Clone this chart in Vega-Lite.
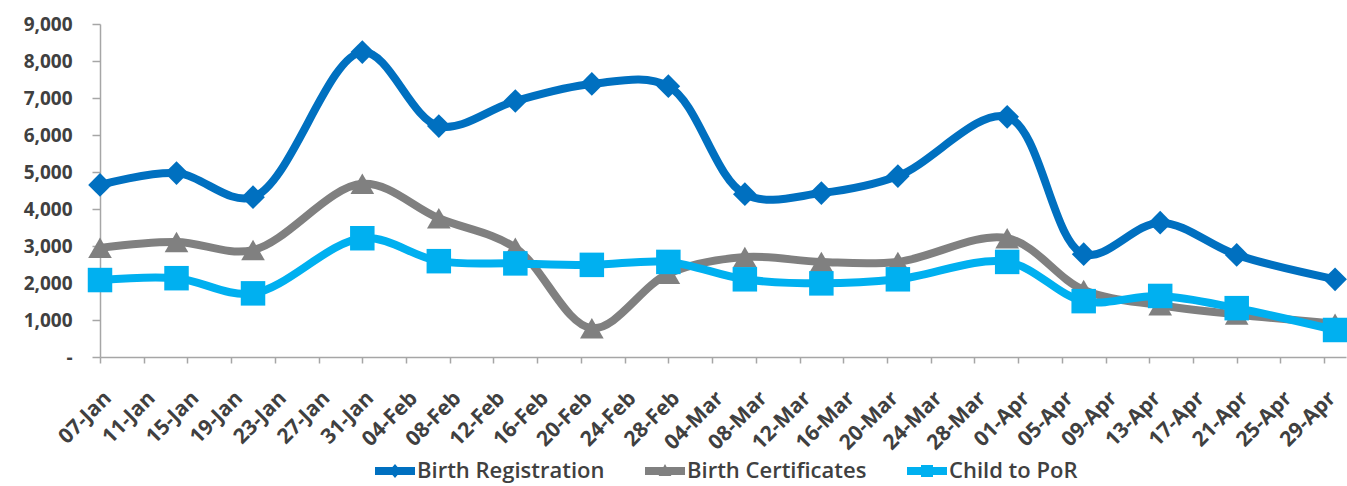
{
  "$schema": "https://vega.github.io/schema/vega-lite/v6.json",
  "width": 1246,
  "height": 333,
  "autosize": {"type": "none"},
  "padding": {"left": 100, "top": 24, "right": 1, "bottom": 129},
  "config": {"view": {"stroke": null}, "font": "Open Sans", "background": "white"},
  "data": {
    "values": [
      {"date": "2019-01-07", "series": "Birth Registration", "value": 4650},
      {"date": "2019-01-14", "series": "Birth Registration", "value": 4970},
      {"date": "2019-01-21", "series": "Birth Registration", "value": 4320},
      {"date": "2019-01-31", "series": "Birth Registration", "value": 8240},
      {"date": "2019-02-07", "series": "Birth Registration", "value": 6240},
      {"date": "2019-02-14", "series": "Birth Registration", "value": 6920},
      {"date": "2019-02-21", "series": "Birth Registration", "value": 7380},
      {"date": "2019-02-28", "series": "Birth Registration", "value": 7320},
      {"date": "2019-03-07", "series": "Birth Registration", "value": 4400},
      {"date": "2019-03-14", "series": "Birth Registration", "value": 4430},
      {"date": "2019-03-21", "series": "Birth Registration", "value": 4890},
      {"date": "2019-03-31", "series": "Birth Registration", "value": 6490},
      {"date": "2019-04-07", "series": "Birth Registration", "value": 2780},
      {"date": "2019-04-14", "series": "Birth Registration", "value": 3630},
      {"date": "2019-04-21", "series": "Birth Registration", "value": 2760},
      {"date": "2019-04-30", "series": "Birth Registration", "value": 2100},
      {"date": "2019-01-07", "series": "Birth Certificates", "value": 2950},
      {"date": "2019-01-14", "series": "Birth Certificates", "value": 3110},
      {"date": "2019-01-21", "series": "Birth Certificates", "value": 2890},
      {"date": "2019-01-31", "series": "Birth Certificates", "value": 4680},
      {"date": "2019-02-07", "series": "Birth Certificates", "value": 3750},
      {"date": "2019-02-14", "series": "Birth Certificates", "value": 2950},
      {"date": "2019-02-21", "series": "Birth Certificates", "value": 780},
      {"date": "2019-02-28", "series": "Birth Certificates", "value": 2250},
      {"date": "2019-03-07", "series": "Birth Certificates", "value": 2700},
      {"date": "2019-03-14", "series": "Birth Certificates", "value": 2570},
      {"date": "2019-03-21", "series": "Birth Certificates", "value": 2570},
      {"date": "2019-03-31", "series": "Birth Certificates", "value": 3210},
      {"date": "2019-04-07", "series": "Birth Certificates", "value": 1810},
      {"date": "2019-04-14", "series": "Birth Certificates", "value": 1400},
      {"date": "2019-04-21", "series": "Birth Certificates", "value": 1150},
      {"date": "2019-04-30", "series": "Birth Certificates", "value": 900},
      {"date": "2019-01-07", "series": "Child to PoR", "value": 2080},
      {"date": "2019-01-14", "series": "Child to PoR", "value": 2130},
      {"date": "2019-01-21", "series": "Child to PoR", "value": 1720},
      {"date": "2019-01-31", "series": "Child to PoR", "value": 3210},
      {"date": "2019-02-07", "series": "Child to PoR", "value": 2590},
      {"date": "2019-02-14", "series": "Child to PoR", "value": 2530},
      {"date": "2019-02-21", "series": "Child to PoR", "value": 2490},
      {"date": "2019-02-28", "series": "Child to PoR", "value": 2570},
      {"date": "2019-03-07", "series": "Child to PoR", "value": 2100},
      {"date": "2019-03-14", "series": "Child to PoR", "value": 1990},
      {"date": "2019-03-21", "series": "Child to PoR", "value": 2100},
      {"date": "2019-03-31", "series": "Child to PoR", "value": 2570},
      {"date": "2019-04-07", "series": "Child to PoR", "value": 1510},
      {"date": "2019-04-14", "series": "Child to PoR", "value": 1650},
      {"date": "2019-04-21", "series": "Child to PoR", "value": 1320},
      {"date": "2019-04-30", "series": "Child to PoR", "value": 730}
    ]
  },
  "encoding": {
    "x": {
      "field": "date",
      "type": "temporal",
      "scale": {
        "type": "utc",
        "domain": [
          {"year": 2019, "month": 1, "date": 7, "utc": true},
          {"year": 2019, "month": 5, "date": 1, "utc": true}
        ]
      },
      "axis": {
        "title": null,
        "grid": false,
        "format": "%d-%b",
        "values": [
          {"year": 2019, "month": 1, "date": 7, "utc": true},
          {"year": 2019, "month": 1, "date": 11, "utc": true},
          {"year": 2019, "month": 1, "date": 15, "utc": true},
          {"year": 2019, "month": 1, "date": 19, "utc": true},
          {"year": 2019, "month": 1, "date": 23, "utc": true},
          {"year": 2019, "month": 1, "date": 27, "utc": true},
          {"year": 2019, "month": 1, "date": 31, "utc": true},
          {"year": 2019, "month": 2, "date": 4, "utc": true},
          {"year": 2019, "month": 2, "date": 8, "utc": true},
          {"year": 2019, "month": 2, "date": 12, "utc": true},
          {"year": 2019, "month": 2, "date": 16, "utc": true},
          {"year": 2019, "month": 2, "date": 20, "utc": true},
          {"year": 2019, "month": 2, "date": 24, "utc": true},
          {"year": 2019, "month": 2, "date": 28, "utc": true},
          {"year": 2019, "month": 3, "date": 4, "utc": true},
          {"year": 2019, "month": 3, "date": 8, "utc": true},
          {"year": 2019, "month": 3, "date": 12, "utc": true},
          {"year": 2019, "month": 3, "date": 16, "utc": true},
          {"year": 2019, "month": 3, "date": 20, "utc": true},
          {"year": 2019, "month": 3, "date": 24, "utc": true},
          {"year": 2019, "month": 3, "date": 28, "utc": true},
          {"year": 2019, "month": 4, "date": 1, "utc": true},
          {"year": 2019, "month": 4, "date": 5, "utc": true},
          {"year": 2019, "month": 4, "date": 9, "utc": true},
          {"year": 2019, "month": 4, "date": 13, "utc": true},
          {"year": 2019, "month": 4, "date": 17, "utc": true},
          {"year": 2019, "month": 4, "date": 21, "utc": true},
          {"year": 2019, "month": 4, "date": 25, "utc": true},
          {"year": 2019, "month": 4, "date": 29, "utc": true}
        ],
        "labelAngle": -45,
        "labelAlign": "right",
        "labelBaseline": "top",
        "labelFontSize": 21,
        "labelFontWeight": "bold",
        "labelColor": "#404040",
        "labelPadding": 24,
        "labelOverlap": false,
        "domainColor": "#A6A6A6",
        "domainWidth": 1.5,
        "tickColor": "#A6A6A6",
        "tickSize": 6,
        "tickWidth": 1.5
      }
    },
    "y": {
      "field": "value",
      "type": "quantitative",
      "scale": {"domain": [0, 9000], "nice": false},
      "axis": {
        "title": null,
        "grid": false,
        "values": [0, 1000, 2000, 3000, 4000, 5000, 6000, 7000, 8000, 9000],
        "labelExpr": "datum.value == 0 ? '-' : format(datum.value, ',')",
        "labelFontSize": 19,
        "labelFontWeight": "bold",
        "labelColor": "#404040",
        "labelPadding": 20,
        "domainColor": "#A6A6A6",
        "domainWidth": 1.5,
        "tickColor": "#A6A6A6",
        "tickSize": 8,
        "tickWidth": 1.5
      }
    },
    "color": {
      "field": "series",
      "type": "nominal",
      "scale": {
        "domain": ["Birth Registration", "Birth Certificates", "Child to PoR"],
        "range": ["#0070C0", "#808080", "#00B0F0"]
      },
      "legend": {
        "title": null,
        "orient": "none",
        "direction": "horizontal",
        "legendX": 275,
        "legendY": 427,
        "labelFontSize": 22,
        "labelFontWeight": 600,
        "labelColor": "#404040",
        "labelLimit": 400,
        "labelOffset": 2,
        "columnPadding": 40,
        "symbolSize": 1600,
        "symbolType": "M-1,-0.2H1V0.2H-1Z M0,-0.35L0.3,0L0,0.35L-0.3,0Z",
        "symbolStrokeWidth": 0,
        "encode": {
          "symbols": {
            "update": {
              "shape": {"signal": "datum.value === 'Birth Registration' ? 'M-1,-0.2H1V0.2H-1Z M0,-0.35L0.3,0L0,0.35L-0.3,0Z' : datum.value === 'Birth Certificates' ? 'M-1,-0.2H1V0.2H-1Z M0,-0.35L0.32,0.25L-0.32,0.25Z' : 'M-1,-0.2H1V0.2H-1Z M-0.3,-0.3H0.3V0.3H-0.3Z'"},
              "fill": {"signal": "scale('color', datum.value)"},
              "fillOpacity": {"value": 1},
              "strokeWidth": {"value": 0}
            }
          }
        }
      }
    }
  },
  "layer": [
    {"mark": {"type": "line", "interpolate": "catmull-rom", "strokeWidth": 8}},
    {
      "transform": [{"filter": "datum.series === 'Birth Registration'"}],
      "mark": {"type": "point", "filled": true, "opacity": 1, "size": 560, "shape": "diamond"}
    },
    {
      "transform": [{"filter": "datum.series === 'Birth Certificates'"}],
      "mark": {"type": "point", "filled": true, "opacity": 1, "size": 560, "shape": "triangle-up"}
    },
    {
      "transform": [{"filter": "datum.series === 'Child to PoR'"}],
      "mark": {"type": "point", "filled": true, "opacity": 1, "size": 600, "shape": "square"}
    }
  ]
}
